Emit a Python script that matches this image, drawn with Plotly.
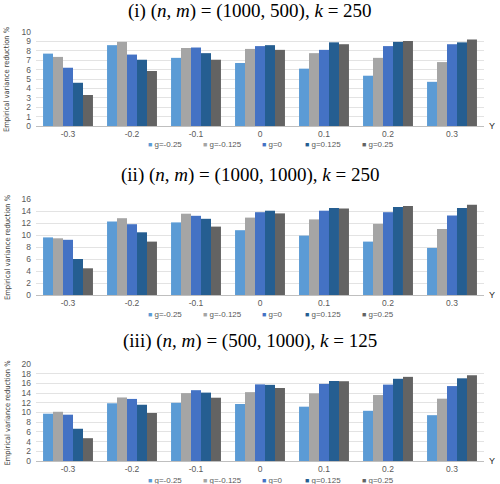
import plotly.graph_objects as go

categories = ["-0.3", "-0.2", "-0.1", "0", "0.1", "0.2", "0.3"]
series_names = ["g=-0.25", "g=-0.125", "g=0", "g=0.125", "g=0.25"]
colors = ["#5B9BD5", "#A5A5A5", "#4472C4", "#255E91", "#636363"]

# panel (i) (n,m)=(1000,500), k=250
p1 = [
    [7.7, 8.6, 7.25, 6.7, 6.1, 5.35, 4.7],
    [7.35, 8.95, 8.3, 8.2, 7.75, 7.25, 6.8],
    [6.2, 7.6, 8.35, 8.5, 8.1, 8.5, 8.7],
    [4.6, 7.05, 7.75, 8.6, 8.9, 8.95, 8.9],
    [3.3, 5.85, 7.05, 8.1, 8.7, 9.05, 9.2],
]
# panel (ii) (n,m)=(1000,1000), k=250
p2 = [
    [9.6, 12.25, 12.1, 10.8, 9.9, 8.9, 7.85],
    [9.45, 12.8, 13.55, 12.9, 12.6, 11.85, 11.0],
    [9.2, 11.8, 13.2, 13.8, 14.05, 13.8, 13.25],
    [6.0, 10.45, 12.7, 14.05, 14.5, 14.65, 14.5],
    [4.45, 8.9, 11.4, 13.6, 14.4, 14.85, 15.05],
]
# panel (iii) (n,m)=(500,1000), k=125
p3 = [
    [9.75, 11.9, 12.0, 11.75, 11.2, 10.35, 9.45],
    [10.15, 13.1, 14.0, 14.2, 13.95, 13.6, 12.85],
    [9.55, 12.8, 14.6, 15.8, 15.9, 15.75, 15.45],
    [6.65, 11.6, 14.1, 15.7, 16.5, 16.95, 17.05],
    [4.7, 9.9, 13.05, 15.05, 16.45, 17.35, 17.7],
]
titles = [
    "(i) (<i>n</i>, <i>m</i>) = (1000, 500), <i>k</i> = 250",
    "(ii) (<i>n</i>, <i>m</i>) = (1000, 1000), <i>k</i> = 250",
    "(iii) (<i>n</i>, <i>m</i>) = (500, 1000), <i>k</i> = 125",
]
y_ranges = [(0, 10, 1), (0, 16, 2), (0, 20, 2)]
axis_title = "Empirical variance reduction %"

W, H = 500.0, 484.0
pix = [(32, 126), (199, 295), (364, 461)]
title_y = [11, 175, 341]
legend_y = [144, 314, 480]
legend_x = [146, 201, 260, 303, 360]
x_dom = [36 / W, 484 / W]

fig = go.Figure()
panels = [p1, p2, p3]
tick_font = dict(family="Liberation Sans, Arial", size=8.5, color="#595959")

for pi, data in enumerate(panels):
    xa = "x" if pi == 0 else f"x{pi+1}"
    ya = "y" if pi == 0 else f"y{pi+1}"
    for si, name in enumerate(series_names):
        fig.add_trace(go.Bar(
            x=categories, y=data[si], name=name,
            marker=dict(color=colors[si], line=dict(width=0)),
            xaxis=xa, yaxis=ya, showlegend=False,
        ))
    top, zero = pix[pi]
    lo, hi, dt = y_ranges[pi]
    ydom = [1 - zero / H, 1 - top / H]
    xkey = "xaxis" if pi == 0 else f"xaxis{pi+1}"
    ykey = "yaxis" if pi == 0 else f"yaxis{pi+1}"
    fig.update_layout(**{
        xkey: dict(domain=x_dom, anchor=ya, showgrid=False, showline=True,
                   linecolor="#BFBFBF", linewidth=1, ticks="", tickfont=tick_font,
                   type="category", fixedrange=True, automargin=False),
        ykey: dict(domain=ydom, anchor=xa, range=[lo, hi], dtick=dt, showgrid=True,
                   gridcolor="#E3E3E3", gridwidth=1, zeroline=False, showline=False,
                   ticks="", tickfont=tick_font, ticklabelstandoff=4, automargin=False),
    })
    # axis title (rotated)
    fig.add_annotation(text=axis_title, xref="paper", yref="paper",
                       x=7 / W, y=1 - (top + zero) / 2 / H, textangle=-90,
                       xanchor="center", yanchor="middle", showarrow=False,
                       font=dict(family="DejaVu Sans Condensed, Liberation Sans Narrow, Arial",
                                 size=7.5, color="#404040"))
    fig.add_annotation(text=titles[pi], xref="paper", yref="paper",
                       x=0.5, y=1 - title_y[pi] / H, xanchor="center", yanchor="middle",
                       showarrow=False,
                       font=dict(family="Liberation Serif, DejaVu Serif, serif", size=19, color="#000000"))
    fig.add_annotation(text="Y", xref="paper", yref="paper",
                       x=492 / W, y=1 - zero / H, xanchor="center", yanchor="middle",
                       showarrow=False,
                       font=dict(family="Liberation Sans, Arial", size=9, color="#262626"))
    # legend entries
    for si, name in enumerate(series_names):
        fig.add_annotation(
            text=f"<span style='color:{colors[si]};font-size:7px'>■</span> {name}",
            xref="paper", yref="paper", x=legend_x[si] / W, y=1 - legend_y[pi] / H,
            xanchor="left", yanchor="middle", showarrow=False,
            font=dict(family="Liberation Sans, Arial", size=8, color="#595959"))

fig.update_layout(
    width=500, height=484,
    margin=dict(l=0, r=0, t=0, b=0, autoexpand=False),
    barmode="group", bargap=0.22, bargroupgap=0,
    plot_bgcolor="white", paper_bgcolor="white",
    showlegend=False,
)

fig.write_html("out.html",
               config={"displayModeBar": False},
               post_script="document.body.style.margin='0';document.body.style.overflow='hidden';")
